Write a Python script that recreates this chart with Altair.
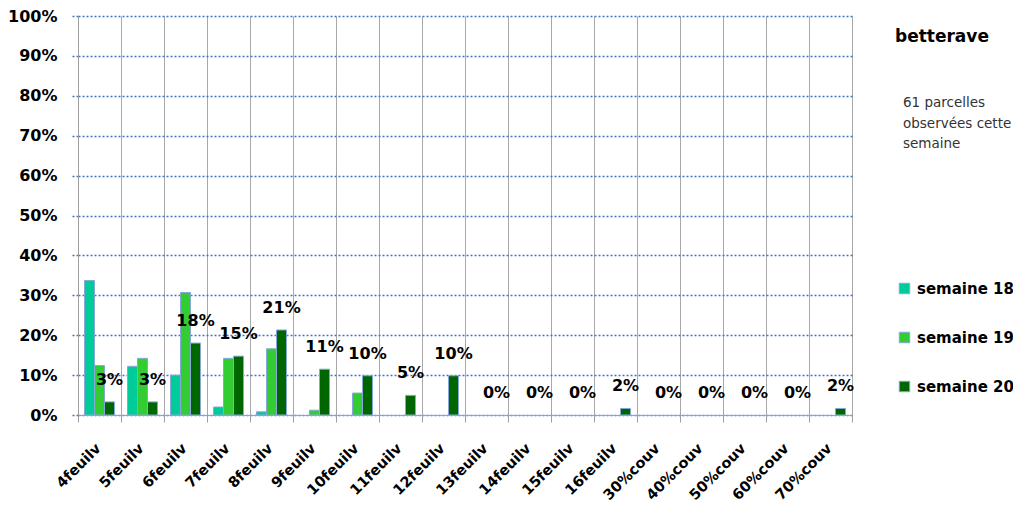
import altair as alt
import pandas as pd

categories = ["4feuilv", "5feuilv", "6feuilv", "7feuilv", "8feuilv", "9feuilv",
              "10feuilv", "11feuilv", "12feuilv", "13feuilv", "14feuilv", "15feuilv",
              "16feuilv", "30%couv", "40%couv", "50%couv", "60%couv", "70%couv"]
series = ["semaine 18", "semaine 19", "semaine 20"]
s18 = [0.337, 0.122, 0.100, 0.020, 0.008, 0, 0, 0, 0, 0, 0, 0, 0, 0, 0, 0, 0, 0]
s19 = [0.124, 0.142, 0.307, 0.142, 0.166, 0.012, 0.055, 0, 0, 0, 0, 0, 0, 0, 0, 0, 0, 0]
s20 = [0.0328, 0.0328, 0.1803, 0.1475, 0.2131, 0.1148, 0.0984, 0.0492, 0.0984,
       0, 0, 0, 0.0164, 0, 0, 0, 0, 0.0164]
colors = ["#00CC99", "#33CC33", "#006600"]
title_text = "betterave"
note_lines = ["61 parcelles", "observées cette", "semaine"]
y_ticks = [0, 0.1, 0.2, 0.3, 0.4, 0.5, 0.6, 0.7, 0.8, 0.9, 1.0]

rows = []
for name, vals in zip(series, [s18, s19, s20]):
    for c, v in zip(categories, vals):
        rows.append({"category": c, "series": name, "value": v})
df = pd.DataFrame(rows)

FONT = "DejaVu Sans"

base = alt.Chart(df).encode(
    x=alt.X("category:N", sort=categories,
            scale=alt.Scale(domain=categories, paddingInner=0, paddingOuter=0),
            axis=alt.Axis(title=None, labelAngle=-45, labelFont=FONT, labelFontWeight="bold",
                          labelFontSize=14.5, labelColor="black", labelPadding=19,
                          labelOffset=-6, labelOverlap=False, labelBound=False,
                          tickSize=7, tickColor="#A0A0A0", domainColor="#A0A0A0",
                          grid=True, gridColor="#A8A8A8", gridWidth=1, tickBand="extent")),
    xOffset=alt.XOffset("series:N", sort=series,
                        scale=alt.Scale(domain=series, paddingInner=0, paddingOuter=0.65)),
    y=alt.Y("value:Q", scale=alt.Scale(domain=[0, 1]),
            axis=alt.Axis(title=None, values=y_ticks, format=".0%", labelFont=FONT,
                          labelFontWeight="bold", labelFontSize=16, labelColor="black",
                          labelPadding=14, tickSize=7, tickColor="#4472C4", tickDash=[2, 2],
                          tickWidth=1.5, grid=True, gridColor="#4472C4", gridDash=[2, 2],
                          gridWidth=1.5, domainColor="#A0A0A0")),
)

bars = base.mark_bar(stroke="#86A8D8", strokeWidth=1).encode(
    color=alt.Color("series:N", sort=series,
                    scale=alt.Scale(domain=series, range=colors),
                    legend=alt.Legend(title=None, orient="none", legendX=819, legendY=265,
                                      symbolType="square", symbolSize=110,
                                      symbolStrokeColor="#86A8D8", symbolStrokeWidth=1,
                                      labelFont=FONT, labelFontWeight="bold",
                                      labelFontSize=15, labelColor="black",
                                      rowPadding=33, labelOffset=5, padding=0,
                                      labelLimit=200))
).transform_filter(alt.datum.value > 0)

labels = base.mark_text(font=FONT, fontWeight="bold", fontSize=16, color="black",
                        baseline="middle", dy=-22).encode(
    text=alt.Text("value:Q", format=".0%")
).transform_filter(alt.datum.series == "semaine 20")

ann = pd.DataFrame({"t": [title_text]})
title_mark = alt.Chart(ann).mark_text(font=FONT, fontWeight="bold", fontSize=17,
                                      color="black", align="left",
                                      baseline="alphabetic").encode(
    x=alt.value(817), y=alt.value(26), text="t:N")

note = alt.Chart(ann).mark_text(font=FONT, fontSize=13.5, color="#333333", align="left",
                                baseline="alphabetic", lineHeight=20.5).encode(
    x=alt.value(825), y=alt.value(91), text=alt.value(note_lines))

chart = alt.layer(bars, labels, title_mark, note).properties(
    width=774, height=399,
    autosize=alt.AutoSizeParams(type="none"),
    padding={"left": 70, "top": 8, "right": 161, "bottom": 92},
).configure_view(stroke=None)

chart.save("out.html", embed_options={"renderer": "svg", "actions": False})
